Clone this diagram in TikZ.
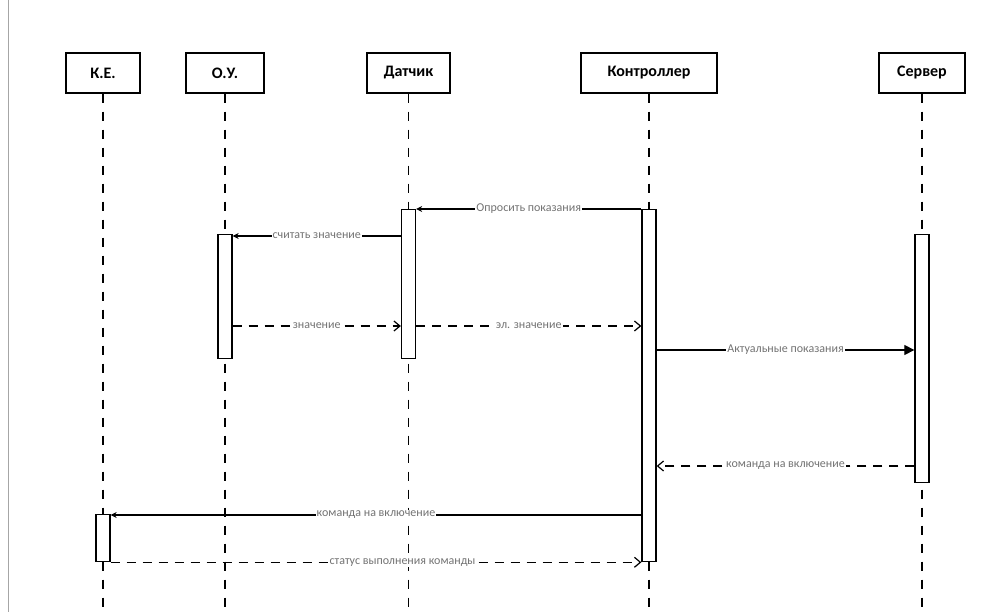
\documentclass[tikz,border=0pt]{standalone}
\usepackage{fontspec}
\setmainfont{Carlito}
\usetikzlibrary{arrows.meta}

\begin{document}
\begin{tikzpicture}[x=1pt,y=-1pt,font=\small]

	% Styles for objects, lifelines, activations and messages
	\tikzset{
		obj/.style={rectangle,draw,line width=1.4pt,minimum height=40pt,inner sep=2pt,font=\fontsize{16}{18}\selectfont\bfseries},
		life/.style={dash pattern=on 9pt off 9pt,line width=1.3pt},
		bar/.style={rectangle,draw,line width=1.3pt,fill=white,minimum width=14pt,inner sep=0pt},
		call/.style={-{Stealth[length=6pt,width=6pt]},line width=1.2pt},
		send/.style={-{Triangle[length=10pt,width=10pt]},line width=1.2pt},
		reply/.style={dash pattern=on 9pt off 7pt,line width=1.2pt,-{Straight Barb[length=6pt,width=10pt]}},
		lbl/.style={fill=white,inner sep=1pt,text=black!55,font=\fontsize{12}{13}\selectfont}
	}

	\useasboundingbox (0,0) rectangle (989,612);
	\draw[black!35] (8,0) -- (8,612);

	%========================================
	% Objects
	%========================================
	\node[obj,minimum width=74pt] (ke) at (103,73) {К.Е.};
	\node[obj,minimum width=78pt] (ou) at (225,73) {О.У.};
	\node[obj,minimum width=83pt] (dat) at (408.5,73) {Датчик};
	\node[obj,minimum width=136pt] (ctl) at (649,73) {Контроллер};
	\node[obj,minimum width=86pt] (srv) at (922,73) {Сервер};

	% Lifelines
	\foreach \o in {ke,ou,dat,ctl,srv}
		\draw[life] (\o.south) -- (\o.south |- 0,612);

	%========================================
	% Activations
	%========================================
	\node[bar,minimum height=149pt,anchor=north] (datbar) at (dat.south |- 0,209) {};
	\node[bar,minimum height=124pt,anchor=north] (oubar) at (ou.south |- 0,234) {};
	\node[bar,minimum height=352pt,anchor=north] (ctlbar) at (ctl.south |- 0,209) {};
	\node[bar,minimum height=248pt,anchor=north] (srvbar) at (srv.south |- 0,234) {};
	\node[bar,minimum height=47pt,anchor=north] (kebar) at (ke.south |- 0,514) {};

	%========================================
	% Messages
	%========================================
	\draw[call] (ctlbar.north west) -- (datbar.north east)
	node[midway,lbl] {Опросить показания};
	\draw[call] (datbar.west |- 0,236) -- (oubar.east |- 0,236)
	node[midway,lbl] {считать значение};
	\draw[reply] (oubar.east |- 0,326) -- (datbar.west |- 0,326)
	node[midway,lbl] {значение};
	\draw[reply] (datbar.east |- 0,326) -- (ctlbar.west |- 0,326)
	node[midway,lbl] {эл. значение};
	\draw[send] (ctlbar.east |- 0,350) -- (srvbar.west |- 0,350)
	node[midway,lbl] {Актуальные показания};
	\draw[reply] (srvbar.west |- 0,466) -- (ctlbar.east |- 0,466)
	node[midway,lbl] {команда на включение};
	\draw[call] (ctlbar.west |- 0,515) -- (kebar.east |- 0,515)
	node[midway,lbl] {команда на включение};
	\draw[reply] (kebar.south east) -- (ctlbar.south west)
	node[pos=0.55,lbl] {статус выполнения команды};

\end{tikzpicture}
\end{document}
